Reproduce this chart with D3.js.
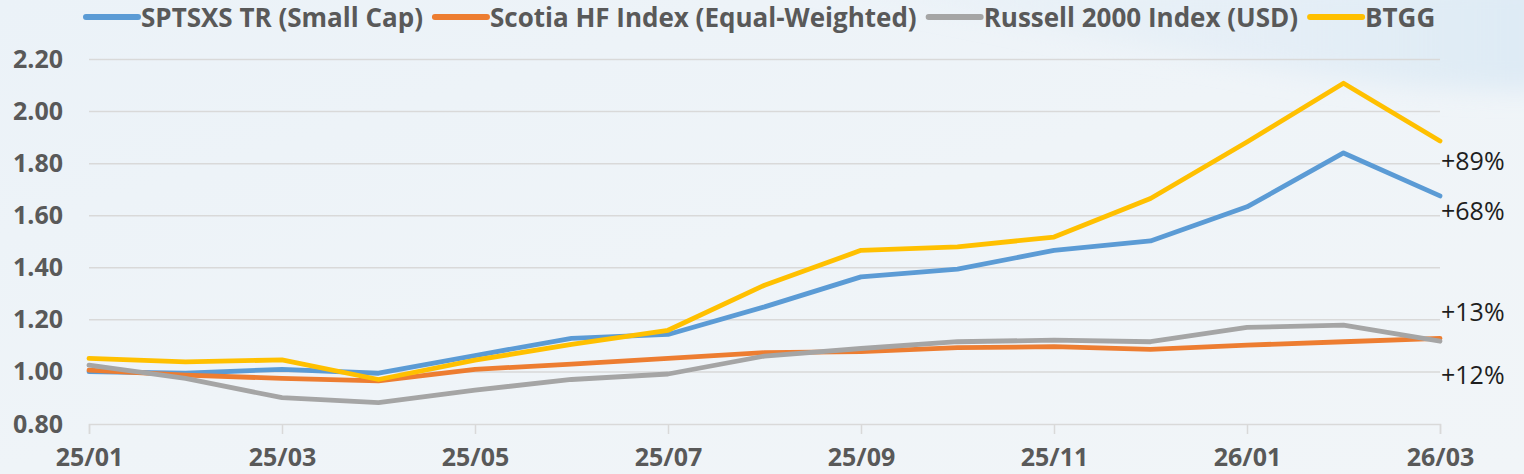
<!DOCTYPE html>
<html>
<head>
<meta charset="utf-8">
<script src="https://cdn.jsdelivr.net/npm/d3@7"></script>
<style>
  html, body { margin: 0; padding: 0; background: #EEF3F7; }
  svg { display: block; }
</style>
</head>
<body>
<svg id="chart" width="1524" height="474"></svg>
<script>
// ---- data ----
const months = ["25/01","25/02","25/03","25/04","25/05","25/06","25/07","25/08","25/09","25/10","25/11","25/12","26/01","26/02","26/03"];
const tickMonths = ["25/01","25/03","25/05","25/07","25/09","25/11","26/01","26/03"];
const yTicks = [0.8, 1.0, 1.2, 1.4, 1.6, 1.8, 2.0, 2.2];
const seriesNames = ["SPTSXS TR (Small Cap)", "Scotia HF Index (Equal-Weighted)", "Russell 2000 Index (USD)", "BTGG"];
const sptsxs  = [1.001,0.995,1.010,0.995,1.063,1.129,1.144,1.250,1.365,1.395,1.467,1.503,1.634,1.841,1.676];
const scotia  = [1.007,0.988,0.975,0.966,1.010,1.030,1.052,1.074,1.078,1.093,1.097,1.087,1.103,1.116,1.129];
const russell = [1.026,0.975,0.901,0.882,0.930,0.971,0.992,1.061,1.090,1.116,1.122,1.116,1.171,1.180,1.118];
const btgg    = [1.052,1.039,1.046,0.971,1.045,1.106,1.160,1.333,1.467,1.480,1.518,1.666,1.883,2.109,1.887];
const endLabels = ["+89%", "+68%", "+13%", "+12%"];
const endLabelSeries = [3, 0, 1, 2];

const colors = ["#5B9BD5", "#ED7D31", "#A5A5A5", "#FFC000"];
const seriesValues = [sptsxs, scotia, russell, btgg];

(function () {
// ---- layout ----
const svg = d3.select("#chart");
const W = 1524, H = 474;
const mLeft = 89, mRight = 1440, mTop = 59.5, mBottom = 424;
const endLabelDy = [29, 24, -17, 43];

// background
const defs = svg.append("defs");
const bg = defs.append("linearGradient").attr("id","bg").attr("x1","0").attr("y1","0").attr("x2","1").attr("y2","1");
bg.append("stop").attr("offset","0%").attr("stop-color","#EBF2F8");
bg.append("stop").attr("offset","50%").attr("stop-color","#EFF4F8");
bg.append("stop").attr("offset","100%").attr("stop-color","#F1F5F8");
svg.append("rect").attr("width",W).attr("height",H).attr("fill","url(#bg)");
const sw = defs.append("linearGradient").attr("id","sw").attr("x1","0").attr("y1","0").attr("x2","1").attr("y2","0");
sw.append("stop").attr("offset","0%").attr("stop-color","#DDEAF5").attr("stop-opacity",0);
sw.append("stop").attr("offset","60%").attr("stop-color","#DDEAF5").attr("stop-opacity",0.5);
sw.append("stop").attr("offset","100%").attr("stop-color","#D9E8F4").attr("stop-opacity",0.8);
const blur = defs.append("filter").attr("id","blur").attr("x","-20%").attr("y","-50%").attr("width","140%").attr("height","200%");
blur.append("feGaussianBlur").attr("stdDeviation", 12);
svg.append("path")
  .attr("d", `M ${W*0.5} -20 C ${W*0.72} 30, ${W*0.86} 95, ${W+20} 90 L ${W+20} -20 Z`)
  .attr("fill","url(#sw)")
  .attr("filter","url(#blur)");

const x = d3.scalePoint().domain(months).range([mLeft, mRight]);
const y = d3.scaleLinear().domain([0.8, 2.2]).range([mBottom, mTop]);

// gridlines
svg.append("g")
  .selectAll("line").data(yTicks.slice(1)).join("line")
  .attr("x1", mLeft).attr("x2", mRight)
  .attr("y1", d => y(d)).attr("y2", d => y(d))
  .attr("stroke", "#D9D9D9").attr("stroke-width", 1.5);

// x axis
const xAxis = d3.axisBottom(x).tickValues(tickMonths).tickSize(10).tickPadding(14);
const gx = svg.append("g").attr("transform", `translate(0,${mBottom})`).call(xAxis);
gx.select(".domain").attr("stroke", "#D9D9D9").attr("stroke-width", 1.5);
gx.selectAll(".tick line").attr("stroke", "#D9D9D9").attr("stroke-width", 1.5);
gx.selectAll(".tick text")
  .attr("font-family", "'Open Sans', 'Liberation Sans', sans-serif")
  .attr("font-weight", "bold").attr("font-size", 25).attr("fill", "#595959")
  .attr("dy", "0.71em");

// y axis
const yAxis = d3.axisLeft(y).tickValues(yTicks).tickFormat(d3.format(".2f")).tickSize(0).tickPadding(26);
const gy = svg.append("g").attr("transform", `translate(${mLeft},0)`).call(yAxis);
gy.select(".domain").remove();
gy.selectAll(".tick text")
  .attr("font-family", "'Open Sans', 'Liberation Sans', sans-serif")
  .attr("font-weight", "bold").attr("font-size", 25).attr("fill", "#595959");

// lines
const line = d3.line().x((d, i) => x(months[i])).y(d => y(d));
svg.append("g").selectAll("path").data(seriesValues).join("path")
  .attr("d", d => line(d))
  .attr("fill", "none")
  .attr("stroke", (d, i) => colors[i])
  .attr("stroke-width", 4.8)
  .attr("stroke-linejoin", "round")
  .attr("stroke-linecap", "round");

// end labels
const lastM = months[months.length - 1];
svg.append("g").selectAll("text").data(endLabels).join("text")
  .attr("x", x(lastM) + 1)
  .attr("y", (d, i) => {
    const vals = seriesValues[endLabelSeries[i]];
    return y(vals[vals.length - 1]) + endLabelDy[i];
  })
  .text(d => d)
  .attr("font-family", "'Open Sans', 'Liberation Sans', sans-serif")
  .attr("font-size", 25).attr("fill", "#1E1E1E");

// legend
const legend = svg.append("g");
let cx = 86;
const legendY = 17;
seriesNames.forEach((name, i) => {
  legend.append("line")
    .attr("x1", cx).attr("x2", cx + 52)
    .attr("y1", legendY).attr("y2", legendY)
    .attr("stroke", colors[i]).attr("stroke-width", 6).attr("stroke-linecap", "round");
  const t = legend.append("text")
    .attr("x", cx + 55).attr("y", 27)
    .attr("font-family", "'Open Sans', 'Liberation Sans', sans-serif")
    .attr("font-weight", "bold").attr("font-size", 26).attr("fill", "#595959")
    .text(name);
  const L = t.node().getComputedTextLength();
  cx = cx + 55 + L + 12;
});
})();
</script>
</body>
</html>
